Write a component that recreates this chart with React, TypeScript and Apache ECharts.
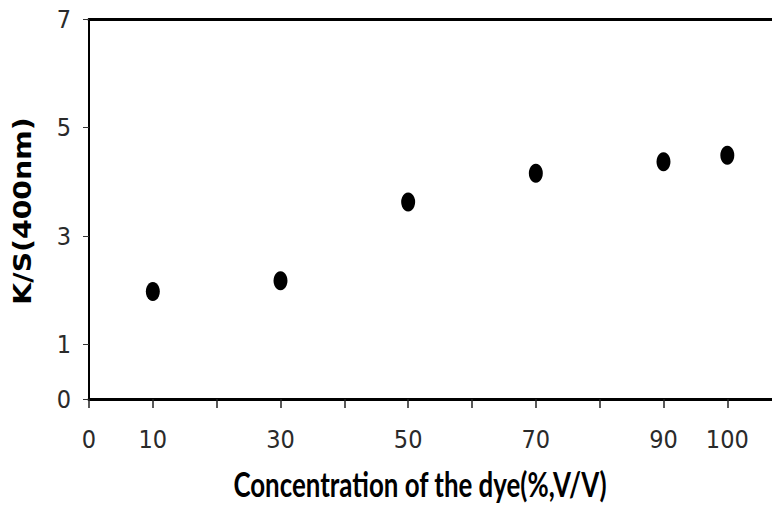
import React, { useEffect, useRef } from "react";
import * as echarts from "echarts";

const concentrations = [10, 30, 50, 70, 90, 100];
const ksValues = [1.98, 2.18, 3.63, 4.16, 4.37, 4.49];
const xTickValues = [0, 10, 20, 30, 40, 50, 60, 70, 80, 90, 100];
const xLabelValues = [0, 10, 30, 50, 70, 90, 100];
const yLabelValues = [0, 1, 3, 5, 7];
const xTitle = "Concentration of the dye(%,V/V)";
const yTitle = "K/S(400nm)";

export default function App() {
  const ref = useRef<HTMLDivElement>(null);
  useEffect(() => {
    document.body.style.margin = "0";
    const chart = echarts.init(ref.current!, null, { renderer: "svg" });
    const tickFont = "'Liberation Sans Narrow', 'DejaVu Sans Condensed', 'Liberation Sans', sans-serif";
    const labelFont = { fontFamily: tickFont, fontSize: 25, color: "#2a2a2a" };

    // squeeze the x title to the reference width (the source image is horizontally compressed)
    const titleFontSize = 35;
    const titleFamily = "Lato";
    let titleScale = 0.7;
    const cv = document.createElement("canvas").getContext("2d");
    if (cv) {
      cv.font = `bold ${titleFontSize}px ${titleFamily}`;
      const w = cv.measureText(xTitle).width;
      if (w > 0) titleScale = 374 / w;
    }

    chart.setOption({
      animation: false,
      backgroundColor: "#ffffff",
      grid: { left: 89, right: 0, top: 19, bottom: 107 },
      xAxis: [
        {
          type: "value",
          position: "bottom",
          min: 0,
          max: 107,
          interval: 10,
          splitLine: { show: false },
          axisLine: { show: true, lineStyle: { color: "#000", width: 3 } },
          axisTick: {
            show: true,
            customValues: xTickValues,
            length: 9,
            lineStyle: { color: "#222", width: 1.5 },
          },
          axisLabel: {
            customValues: xLabelValues,
            margin: 28,
            ...labelFont,
          },
        },
        {
          type: "value",
          position: "top",
          min: 0,
          max: 107,
          axisLine: { show: true, lineStyle: { color: "#000", width: 3 } },
          axisTick: { show: false },
          axisLabel: { show: false },
          splitLine: { show: false },
        },
      ],
      yAxis: {
        type: "value",
        min: 0,
        max: 7,
        interval: 1,
        splitLine: { show: false },
        axisLine: { show: true, lineStyle: { color: "#000", width: 2 } },
        axisTick: {
          show: true,
          customValues: yLabelValues,
          length: 6,
          lineStyle: { color: "#333", width: 1 },
        },
        axisLabel: {
          customValues: yLabelValues,
          margin: 18,
          ...labelFont,
        },
      },
      graphic: [
        {
          type: "text",
          x: 23,
          y: 211,
          rotation: Math.PI / 2,
          scaleX: 1.18,
          style: {
            text: yTitle,
            fontFamily: "DejaVu Sans",
            fontWeight: "bold",
            fontSize: 24,
            fill: "#000",
            align: "center",
            verticalAlign: "middle",
          },
        },
        {
          type: "text",
          x: 420,
          y: 484,
          scaleX: titleScale,
          style: {
            text: xTitle,
            fontFamily: titleFamily,
            fontWeight: "bold",
            fontSize: titleFontSize,
            fill: "#000",
            align: "center",
            verticalAlign: "middle",
          },
        },
      ],
      series: [
        {
          type: "scatter",
          xAxisIndex: 0,
          data: concentrations.map((c, i) => [c, ksValues[i]]),
          symbol: "circle",
          symbolSize: [14, 19],
          itemStyle: { color: "#000", opacity: 1 },
        },
      ],
    });
    return () => chart.dispose();
  }, []);
  return <div ref={ref} style={{ width: 772, height: 506 }} />;
}
